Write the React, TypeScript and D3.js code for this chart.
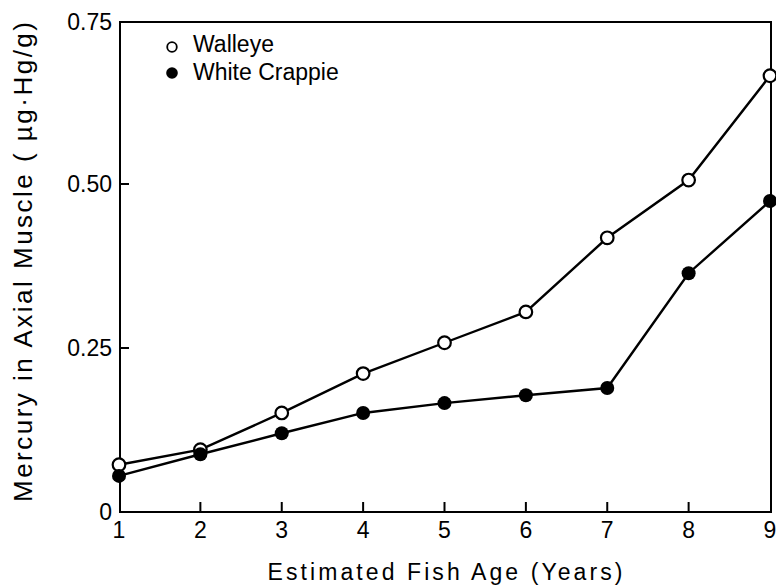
import React from "react";
import * as d3 from "d3";

const ages = [1, 2, 3, 4, 5, 6, 7, 8, 9];
const walleye = [0.072, 0.095, 0.151, 0.211, 0.258, 0.305, 0.418, 0.506, 0.665];
const crappie = [0.055, 0.088, 0.12, 0.151, 0.166, 0.178, 0.189, 0.364, 0.474];
const yTicks = [0, 0.25, 0.5, 0.75];
const yTickLabels = ["0", "0.25", "0.50", "0.75"];
const xTicks = [1, 2, 3, 4, 5, 6, 7, 8, 9];

const W = 776;
const H = 588;
const left = 120;
const right = 771;
const top = 20;
const bottom = 512;

export default function App() {
  const x = d3.scaleLinear().domain([1, 9]).range([119, 770]);
  const y = d3.scaleLinear().domain([0, 0.75]).range([bottom, top]);
  const line = d3
    .line<number>()
    .x((_, i) => x(ages[i]))
    .y((d) => y(d));
  const font = "'Liberation Sans', Arial, Helvetica, sans-serif";
  return (
    <svg
      width={W}
      height={H}
      style={{ position: "absolute", left: 0, top: 0, background: "#fff" }}
      fontFamily={font}
    >
      <rect x={0} y={0} width={W} height={H} fill="#fff" />
      {/* frame */}
      <rect
        x={left}
        y={top + 2}
        width={right - left}
        height={bottom - top - 2}
        fill="none"
        stroke="#000"
        strokeWidth={2}
      />
      {/* y ticks */}
      {yTicks.map((t, i) => (
        <g key={"y" + i}>
          {i > 0 && i < yTicks.length - 1 && (
            <line x1={left} x2={left + 9} y1={y(t)} y2={y(t)} stroke="#000" strokeWidth={2} />
          )}
          <text
            x={112}
            y={Math.max(y(t) + 8, 30)}
            textAnchor="end"
            fontSize={23}
            fill="#000"
          >
            {yTickLabels[i]}
          </text>
        </g>
      ))}
      {/* x ticks */}
      {xTicks.map((t) => (
        <g key={"x" + t}>
          {t > 1 && t < 9 && (
            <line x1={x(t)} x2={x(t)} y1={bottom} y2={bottom - 10} stroke="#000" strokeWidth={2} />
          )}
          <text x={x(t)} y={538} textAnchor="middle" fontSize={23} fill="#000">
            {t}
          </text>
        </g>
      ))}
      {/* axis titles */}
      <text
        x={445}
        y={580}
        textAnchor="middle"
        fontSize={23}
        fill="#000"
        textLength={355}
        lengthAdjust="spacing"
      >
        Estimated Fish Age (Years)
      </text>
      <text
        transform={`translate(32, 262) rotate(-90)`}
        textAnchor="middle"
        fontSize={26}
        fill="#000"
        textLength={480}
        lengthAdjust="spacing"
      >
        Mercury in Axial Muscle ( µg·Hg/g)
      </text>
      {/* lines */}
      <path d={line(walleye) || ""} fill="none" stroke="#000" strokeWidth={2.4} />
      <path d={line(crappie) || ""} fill="none" stroke="#000" strokeWidth={2.4} />
      {walleye.map((v, i) => (
        <circle key={"w" + i} cx={x(ages[i])} cy={y(v)} r={6.3} fill="#fff" stroke="#000" strokeWidth={2.2} />
      ))}
      {crappie.map((v, i) => (
        <circle key={"c" + i} cx={x(ages[i])} cy={y(v)} r={7} fill="#000" />
      ))}
      {/* legend */}
      <circle cx={172} cy={47} r={4.8} fill="#fff" stroke="#000" strokeWidth={1.8} />
      <text x={193} y={52} fontSize={23} fill="#000">Walleye</text>
      <circle cx={172} cy={73} r={5.8} fill="#000" />
      <text x={193} y={80} fontSize={23} fill="#000">White Crappie</text>
    </svg>
  );
}
